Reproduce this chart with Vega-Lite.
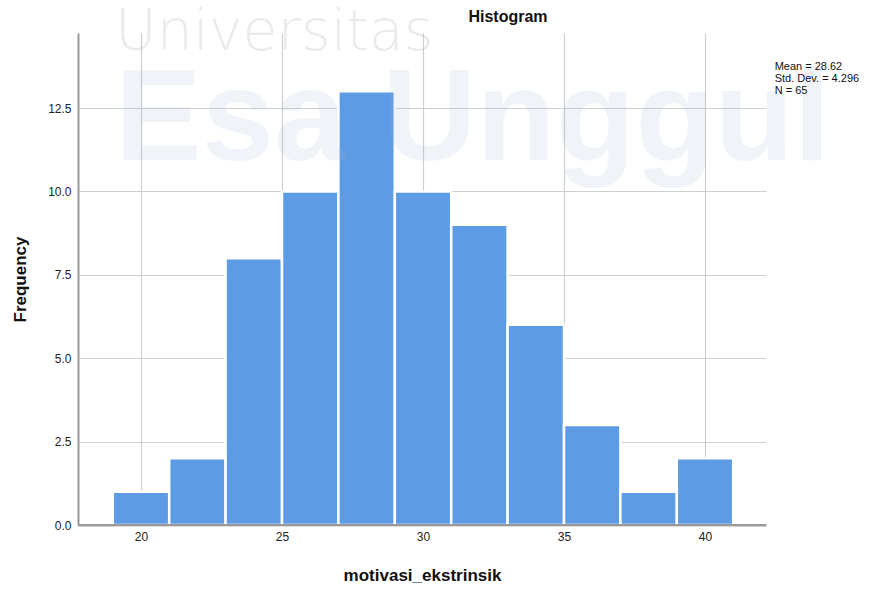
{
  "$schema": "https://vega.github.io/schema/vega-lite/v6.json",
  "width": 688,
  "height": 492,
  "autosize": {"type": "none"},
  "padding": {"left": 78, "top": 33, "right": 114, "bottom": 67},
  "background": "white",
  "config": {
    "font": "Liberation Sans",
    "view": {"stroke": null},
    "axis": {
      "grid": true,
      "gridColor": "#cfcfcf",
      "gridWidth": 1.2,
      "domainColor": "#9a9a9a",
      "domainWidth": 2,
      "ticks": false,
      "labelFont": "Liberation Sans",
      "labelFontSize": 12,
      "labelColor": "#222222",
      "titleFont": "Liberation Sans",
      "titleFontSize": 17,
      "titleFontWeight": "bold",
      "titleColor": "#111111"
    }
  },
  "datasets": {
    "bins": [
      {"bin_start": 19, "bin_end": 21, "count": 1},
      {"bin_start": 21, "bin_end": 23, "count": 2},
      {"bin_start": 23, "bin_end": 25, "count": 8},
      {"bin_start": 25, "bin_end": 27, "count": 10},
      {"bin_start": 27, "bin_end": 29, "count": 13},
      {"bin_start": 29, "bin_end": 31, "count": 10},
      {"bin_start": 31, "bin_end": 33, "count": 9},
      {"bin_start": 33, "bin_end": 35, "count": 6},
      {"bin_start": 35, "bin_end": 37, "count": 3},
      {"bin_start": 37, "bin_end": 39, "count": 1},
      {"bin_start": 39, "bin_end": 41, "count": 2}
    ],
    "stats": [
      {"label": "Mean = 28.62\nStd. Dev. = 4.296\nN = 65"}
    ],
    "titles": [{"label": "Histogram"}],
    "wm1": [{"label": "Universitas"}],
    "wm2": [{"label": "Esa Unggul"}]
  },
  "layer": [
    {
      "data": {"name": "bins"},
      "mark": {"type": "bar", "color": "#5e9be5", "stroke": "white", "strokeWidth": 2.5},
      "encoding": {
        "x": {
          "field": "bin_start",
          "type": "quantitative",
          "scale": {"domain": [17.766, 42.163], "nice": false, "zero": false},
          "axis": {"values": [20, 25, 30, 35, 40], "labelPadding": 6, "titlePadding": 25},
          "title": "motivasi_ekstrinsik"
        },
        "x2": {"field": "bin_end"},
        "y": {
          "field": "count",
          "type": "quantitative",
          "scale": {"domain": [0, 14.75], "nice": false, "zero": false},
          "axis": {"values": [0, 2.5, 5, 7.5, 10, 12.5], "format": ".1f", "labelPadding": 7, "titlePadding": 18},
          "title": "Frequency"
        },
        "y2": {"datum": 0}
      }
    },
    {
      "data": {"name": "bins"},
      "mark": {"type": "rule", "color": "#9a9a9a", "strokeWidth": 2},
      "encoding": {
        "y": {"datum": 0, "type": "quantitative", "scale": {"domain": [0, 14.75], "nice": false, "zero": false}},
        "x": {"datum": 17.766, "type": "quantitative", "scale": {"domain": [17.766, 42.163], "nice": false, "zero": false}},
        "x2": {"datum": 42.163}
      }
    },
    {
      "data": {"name": "wm2"},
      "mark": {"type": "text", "font": "Liberation Sans", "fontWeight": "bold", "fontSize": 130, "align": "left", "baseline": "alphabetic", "color": "#9fb4d6", "opacity": 0.15, "clip": false},
      "encoding": {
        "text": {"field": "label"},
        "x": {"datum": 19.08, "type": "quantitative", "scale": {"domain": [17.766, 42.163], "nice": false, "zero": false}},
        "y": {"datum": 10.94, "type": "quantitative", "scale": {"domain": [0, 14.75], "nice": false, "zero": false}}
      }
    },
    {
      "data": {"name": "wm1"},
      "mark": {"type": "text", "font": "DejaVu Sans", "fontWeight": 200, "fontSize": 57, "align": "left", "baseline": "alphabetic", "color": "#b0b0b0", "opacity": 0.25, "clip": false},
      "encoding": {
        "text": {"field": "label"},
        "x": {"datum": 19.08, "type": "quantitative", "scale": {"domain": [17.766, 42.163], "nice": false, "zero": false}},
        "y": {"datum": 14.24, "type": "quantitative", "scale": {"domain": [0, 14.75], "nice": false, "zero": false}}
      }
    },
    {
      "data": {"name": "titles"},
      "mark": {"type": "text", "font": "Liberation Sans", "fontWeight": "bold", "fontSize": 16, "align": "center", "baseline": "middle", "color": "#111111", "clip": false},
      "encoding": {
        "text": {"field": "label"},
        "x": {"datum": 33.015, "type": "quantitative", "scale": {"domain": [17.766, 42.163], "nice": false, "zero": false}},
        "y": {"datum": 15.23, "type": "quantitative", "scale": {"domain": [0, 14.75], "nice": false, "zero": false}}
      }
    },
    {
      "data": {"name": "stats"},
      "mark": {"type": "text", "font": "Liberation Sans", "fontSize": 11, "align": "left", "baseline": "top", "lineBreak": "\n", "lineHeight": 12, "color": "#111111", "clip": false},
      "encoding": {
        "text": {"field": "label"},
        "x": {"datum": 42.47, "type": "quantitative", "scale": {"domain": [17.766, 42.163], "nice": false, "zero": false}},
        "y": {"datum": 13.9, "type": "quantitative", "scale": {"domain": [0, 14.75], "nice": false, "zero": false}}
      }
    }
  ]
}
